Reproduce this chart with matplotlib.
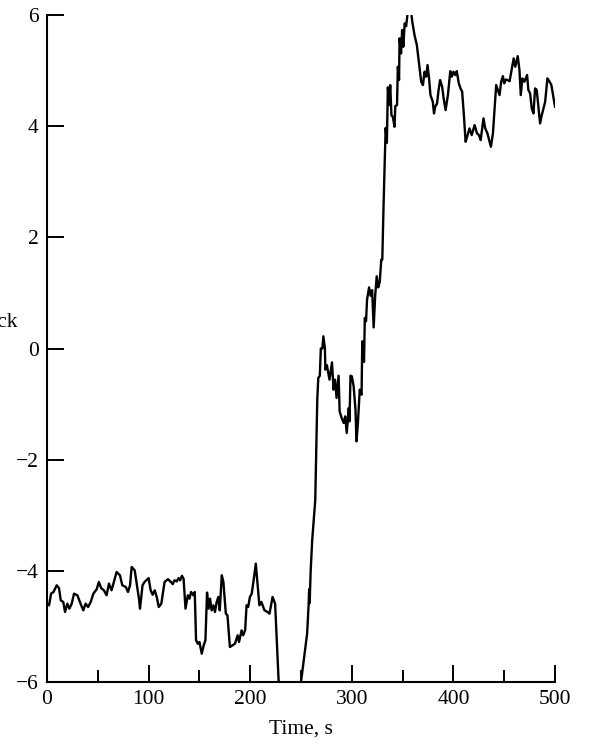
from matplotlib import pyplot as plt
import numpy as np

# Sinal ao longo do tempo (s)
tempo = [0, 2, 4, 6.4, 9.5, 11.8, 13.5, 16, 17.7, 20, 22, 24.3, 26.6, 29.9, 33, 35.7, 38, 40.4, 43, 45.6,
         48.9, 51, 53.3, 56, 58.6, 61, 63.5, 65.8, 68.5, 71.8, 74.1, 77.5, 79.7, 81.7, 83.3, 86.3, 88, 90.7, 91.5, 94,
         96, 97.7, 100, 102, 104, 106, 108, 110, 112.5, 115.7, 119, 122, 123.7, 125.4, 127.6, 129.5, 131, 132.8, 134.4, 136.3,
         138.6, 140.2, 141.8, 144, 145.4, 146.7, 148.4, 150, 152.3, 154.2, 155.9, 157.5, 159, 160.5, 162, 163.7, 165.3, 167, 168.6, 170,
         172, 173.6, 176, 177.6, 180, 182.6, 185, 187.6, 189, 191.5, 193, 195, 196.4, 198, 199.7, 201.5, 203.8, 205.5, 209, 211,
         214, 217, 219, 222, 224.5, 228, 232, 246, 250, 256, 257.5, 258, 258.5, 259.5, 261, 264, 266, 267, 268.5, 269.5,
         271, 272, 273.5, 274, 275.5, 278, 280.5, 282, 283.5, 285, 287, 288, 290, 292, 293.5, 295, 297, 297.7, 298.7, 300,
         301.8, 303.6, 304.6, 306, 307.8, 309.6, 310.3, 312, 312.8, 314, 315, 317, 318.5, 320, 321.5, 323, 324.5, 326, 327.5, 329,
         330, 331.4, 332.5, 333.3, 334.5, 335.5, 336.5, 337.8, 339, 340.5, 342, 342.8, 344.5, 345.3, 346.5, 347, 348.5, 349.5, 350.7, 352,
         353.5, 355, 358.5, 359.5, 361.7, 364, 366.2, 368.3, 370, 371.6, 373.2, 374.5, 376, 377.4, 379.7, 380.9, 382.1, 383.9, 385.4, 386.9,
         388.9, 390.4, 392.3, 394.6, 396.9, 398.4, 400, 401.7, 403.3, 405.3, 407, 408.6, 410.3, 412, 413.5, 415.8, 418, 420.9, 423.2, 425.2,
         426.8, 429.6, 431.3, 433.5, 435.2, 436.9, 438.9, 440.2, 442.1, 443.7, 445.4, 447, 448.7, 450, 451.7, 453.3, 455.3, 457, 459.3, 460.9,
         463.3, 465, 466.3, 467.9, 469.9, 472.5, 473.8, 475.5, 477.1, 478.8, 480.4, 482, 483.7, 485.3, 487, 490.3, 492.5, 494.7, 496.4, 500]

valores = [-4.59, -4.62, -4.41, -4.38, -4.26, -4.31, -4.53, -4.56, -4.74, -4.59, -4.68, -4.59, -4.41, -4.44, -4.59, -4.71, -4.59, -4.65, -4.56, -4.41,
           -4.33, -4.20, -4.31, -4.35, -4.44, -4.23, -4.35, -4.20, -4.02, -4.08, -4.26, -4.29, -4.38, -4.26, -3.93, -3.99, -4.20, -4.53, -4.68, -4.26,
           -4.20, -4.17, -4.13, -4.35, -4.43, -4.35, -4.47, -4.65, -4.59, -4.20, -4.15, -4.20, -4.24, -4.17, -4.19, -4.13, -4.17, -4.09, -4.14, -4.68,
           -4.44, -4.50, -4.38, -4.44, -4.38, -5.25, -5.31, -5.28, -5.49, -5.34, -5.25, -4.39, -4.68, -4.50, -4.71, -4.62, -4.74, -4.56, -4.47, -4.71,
           -4.08, -4.20, -4.77, -4.80, -5.37, -5.34, -5.31, -5.16, -5.28, -5.07, -5.16, -5.07, -4.62, -4.65, -4.47, -4.41, -4.11, -3.87, -4.62, -4.56,
           -4.71, -4.74, -4.77, -4.47, -4.59, -6.0, -6.8, -6.8, -6.0, -5.13, -4.60, -4.33, -4.58, -4.0, -3.45, -2.73, -0.92, -0.53, -0.49, 0.0,
           0.0, 0.22, 0.0, -0.38, -0.30, -0.56, -0.25, -0.74, -0.56, -0.89, -0.49, -1.13, -1.25, -1.34, -1.22, -1.52, -1.07, -1.31, -0.49, -0.50,
           -0.68, -1.10, -1.67, -1.34, -0.74, -0.83, 0.13, -0.24, 0.55, 0.49, 0.88, 1.10, 0.95, 1.05, 0.38, 0.95, 1.30, 1.10, 1.20, 1.60,
           1.60, 2.69, 3.45, 3.97, 3.70, 4.70, 4.38, 4.74, 4.20, 4.16, 3.99, 4.36, 4.38, 5.07, 4.83, 5.58, 5.31, 5.73, 5.43, 5.85,
           5.80, 6.05, 6.05, 5.88, 5.64, 5.46, 5.13, 4.80, 4.74, 4.98, 4.89, 5.10, 4.87, 4.56, 4.44, 4.23, 4.35, 4.41, 4.65, 4.83,
           4.71, 4.50, 4.29, 4.56, 4.99, 4.89, 4.98, 4.92, 4.99, 4.77, 4.68, 4.62, 4.20, 3.72, 3.81, 3.96, 3.84, 4.02, 3.87, 3.84,
           3.75, 4.14, 3.96, 3.87, 3.75, 3.63, 3.87, 4.23, 4.74, 4.65, 4.56, 4.80, 4.90, 4.77, 4.84, 4.83, 4.81, 4.98, 5.22, 5.07,
           5.26, 5.01, 4.56, 4.86, 4.80, 4.92, 4.65, 4.59, 4.32, 4.23, 4.68, 4.65, 4.35, 4.05, 4.20, 4.44, 4.86, 4.80, 4.74, 4.35]

ticks_x = [0, 100, 200, 300, 400, 500]
ticks_x_menores = [50, 150, 250, 350, 450]
ticks_y = [-6, -4, -2, 0, 2, 4, 6]

plt.rcParams['font.family'] = ['Liberation Serif', 'DejaVu Serif']
plt.rcParams['font.size'] = 15.5

fig = plt.figure(figsize=(5.9, 7.44), dpi=100)
ax = fig.add_axes([0.0797, 0.0833, 0.861, 0.8965])

ax.plot(tempo, valores, color='black', linewidth=1.7)

ax.set_xlim(0, 500)
ax.set_ylim(-6, 6)
ax.set_xticks(ticks_x)
ax.set_xticks(ticks_x_menores, minor=True)
ax.set_yticks(ticks_y)

# Apenas eixos esquerdo e inferior, ticks para dentro
ax.spines['top'].set_visible(False)
ax.spines['right'].set_visible(False)
ax.spines['left'].set_linewidth(1.5)
ax.spines['bottom'].set_linewidth(1.5)
ax.tick_params(axis='both', which='major', direction='in', length=12.5, width=1.4, pad=6)
ax.tick_params(axis='x', which='minor', direction='in', length=8.5, width=1.4)

ax.set_xlabel('Time, s', labelpad=7)
# rótulo do eixo y fica parcialmente fora da figura
fig.text(17 / 590, 1 - 322 / 744, 'Cross track', ha='right', va='center')

plt.savefig('out.png', dpi=100)
